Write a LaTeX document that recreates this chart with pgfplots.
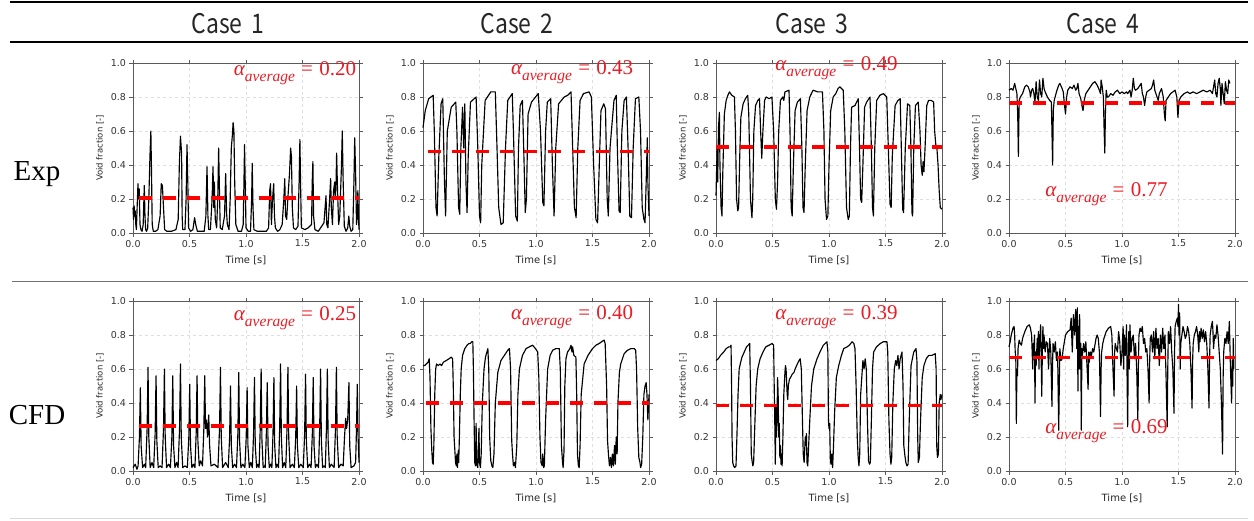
\documentclass[border=0pt]{standalone}
\usepackage{fontspec}
\usepackage{pgfplots}
\pgfplotsset{compat=1.18}
\newfontfamily\dv{DejaVu Sans}
\newfontfamily\tnr{Liberation Serif}
\newfontfamily\casef[FakeStretch=0.85]{Noto Sans CJK KR}
\definecolor{avgred}{RGB}{232,28,36}
\definecolor{spine}{RGB}{90,90,90}

% alpha_average = value, set like the Cambria Math label of the original
\newcommand\alav[1]{{\itshape α}\raisebox{-0.28em}{\itshape\fontsize{15.5}{16}\selectfont average}\hspace{0.3em}=\hspace{0.3em}#1}

\pgfplotsset{
  vf/.style={
    scale only axis, width=226pt, height=170pt,
    xmin=0, xmax=2, ymin=0, ymax=1, clip=false,
    xtick={0,0.5,1,1.5,2}, ytick={0,0.2,0.4,0.6,0.8,1},
    grid=major, grid style={gray!25, dashed, line width=0.5pt},
    axis line style={spine, line width=0.8pt},
    tick align=outside, major tick length=3.5pt,
    tick style={spine, line width=0.8pt},
    ticklabel style={font=\dv\fontsize{9.5}{10}\selectfont, text=black!80},
    /pgf/number format/fixed, /pgf/number format/fixed zerofill,
    /pgf/number format/precision=1,
    /pgf/number format/assume math mode=true,
    xlabel={Time [s]}, ylabel={Void fraction [-]},
    xlabel style={font=\dv\fontsize{10}{11}\selectfont, text=black!85,
      at={(axis description cs:0.5,-0.16)}, anchor=center},
    ylabel style={font=\dv\fontsize{8.5}{9}\selectfont, text=black!85,
      at={(axis description cs:-0.146,0.5)}, anchor=center},
  },
  sig/.style={black, line width=1.15pt, line join=round},
  avg/.style={red, line width=3.6pt, dash pattern=on 13pt off 11pt},
}
\tikzset{lab/.style={text=avgred, font=\tnr\fontsize{21}{23}\selectfont, anchor=center}}

\begin{document}
\begin{tikzpicture}
\useasboundingbox (0,0) rectangle (1254pt,-520pt);

% table rules
\draw[line width=2.5pt] (10pt,-1.8pt) -- (1248pt,-1.8pt);
\draw[line width=2.5pt] (10pt,-42pt) -- (1248pt,-42pt);
\draw[black!55, line width=1pt] (12pt,-281.5pt) -- (1248pt,-281.5pt);
\draw[black!15, line width=1pt] (10pt,-518.5pt) -- (1248pt,-518.5pt);

% headers
\foreach \x/\t in {228/1, 517/2, 812/3, 1103/4}
  \node[font=\casef\fontsize{27}{28}\selectfont, anchor=base, text=black!85] at (\x pt,-33pt) {Case\,\,\t};
\node[font=\tnr\fontsize{29}{30}\selectfont, anchor=base] at (37pt,-180pt) {Exp};
\node[font=\tnr\fontsize{29}{30}\selectfont, anchor=base] at (37pt,-424pt) {CFD};

% ---------- Exp, case 1
\begin{axis}[vf, at={(133pt,-63pt)}, anchor=north west]
\addplot[sig] coordinates {
(0,0.15)(0.005,0.08)(0.01,0.16)(0.015,0.10)(0.02,0.13)(0.025,0.05)(0.03,0.02)(0.035,0.12)(0.044,0.29)(0.05,0.2)(0.055,0.26)(0.062,0.05)(0.07,0.02)(0.08,0.01)(0.09,0.05)(0.1,0.28)(0.106,0.1)(0.112,0.02)(0.12,0.01)(0.13,0.03)(0.14,0.2)(0.15,0.45)(0.158,0.6)(0.164,0.35)(0.17,0.05)(0.18,0.01)(0.2,0.01)(0.22,0.02)(0.24,0.1)(0.25,0.29)(0.26,0.28)(0.27,0.15)(0.28,0.02)(0.3,0.01)(0.34,0.01)(0.38,0.02)(0.40,0.08)(0.41,0.4)(0.42,0.57)(0.43,0.47)(0.435,0.1)(0.44,0.02)(0.46,0.02)(0.47,0.2)(0.478,0.52)(0.485,0.3)(0.492,0.03)(0.51,0.01)(0.53,0.02)(0.545,0.09)(0.555,0.05)(0.57,0.01)(0.6,0.01)(0.63,0.01)(0.645,0.1)(0.655,0.39)(0.663,0.1)(0.67,0.02)(0.685,0.02)(0.7,0.2)(0.708,0.39)(0.715,0.15)(0.72,0.3)(0.728,0.08)(0.74,0.03)(0.75,0.2)(0.758,0.5)(0.765,0.25)(0.772,0.03)(0.79,0.02)(0.81,0.1)(0.82,0.35)(0.828,0.12)(0.835,0.05)(0.85,0.02)(0.86,0.2)(0.87,0.5)(0.88,0.58)(0.886,0.65)(0.893,0.6)(0.9,0.3)(0.91,0.05)(0.93,0.01)(0.96,0.01)(0.975,0.05)(0.982,0.3)(0.987,0.52)(0.993,0.3)(1.0,0.03)(1.02,0.01)(1.04,0.01)(1.05,0.2)(1.055,0.41)(1.062,0.15)(1.07,0.02)(1.1,0.01)(1.14,0.01)(1.18,0.01)(1.2,0.03)(1.21,0.25)(1.217,0.29)(1.225,0.05)(1.235,0.2)(1.245,0.29)(1.252,0.1)(1.26,0.03)(1.28,0.01)(1.3,0.02)(1.32,0.05)(1.335,0.2)(1.343,0.32)(1.35,0.1)(1.36,0.08)(1.37,0.2)(1.385,0.35)(1.395,0.5)(1.402,0.45)(1.41,0.15)(1.42,0.03)(1.44,0.02)(1.46,0.04)(1.47,0.3)(1.477,0.55)(1.484,0.25)(1.49,0.03)(1.52,0.02)(1.55,0.03)(1.58,0.05)(1.586,0.3)(1.592,0.42)(1.598,0.1)(1.61,0.02)(1.64,0.01)(1.67,0.04)(1.69,0.06)(1.7,0.15)(1.708,0.22)(1.715,0.05)(1.725,0.03)(1.74,0.2)(1.749,0.32)(1.755,0.15)(1.765,0.05)(1.775,0.25)(1.785,0.3)(1.79,0.2)(1.797,0.3)(1.802,0.47)(1.81,0.25)(1.82,0.05)(1.83,0.1)(1.845,0.4)(1.852,0.6)(1.86,0.3)(1.87,0.04)(1.885,0.01)(1.9,0.03)(1.91,0.1)(1.918,0.04)(1.93,0.01)(1.945,0.02)(1.955,0.3)(1.962,0.56)(1.97,0.35)(1.978,0.05)(1.985,0.1)(1.99,0.25)(1.995,0.1)(2.0,0.02)
};
\addplot[avg] coordinates {(0.05,0.205)(2,0.205)};
\node[lab] at (axis cs:1.434,0.94) {\alav{0.20}};
\end{axis}

% ---------- Exp, case 2
\begin{axis}[vf, at={(423pt,-63pt)}, anchor=north west]
\addplot[sig] coordinates {
(0,0.62)(0.02,0.72)(0.05,0.79)(0.09,0.81)(0.10,0.6)(0.115,0.15)(0.125,0.10)(0.14,0.45)(0.16,0.76)(0.175,0.79)(0.19,0.3)(0.20,0.10)(0.215,0.6)(0.25,0.74)(0.29,0.77)(0.30,0.6)(0.315,0.15)(0.325,0.11)(0.335,0.5)(0.35,0.74)(0.36,0.5)(0.37,0.76)(0.38,0.3)(0.39,0.12)(0.40,0.45)(0.42,0.77)(0.47,0.8)(0.485,0.5)(0.50,0.1)(0.51,0.06)(0.52,0.4)(0.55,0.78)(0.60,0.83)(0.64,0.83)(0.655,0.5)(0.67,0.15)(0.69,0.05)(0.71,0.06)(0.73,0.5)(0.75,0.78)(0.79,0.82)(0.80,0.6)(0.82,0.1)(0.835,0.07)(0.845,0.5)(0.86,0.75)(0.88,0.78)(0.895,0.4)(0.905,0.12)(0.915,0.2)(0.93,0.7)(0.96,0.77)(1.02,0.82)(1.04,0.6)(1.06,0.18)(1.07,0.16)(1.085,0.6)(1.10,0.77)(1.13,0.79)(1.145,0.4)(1.16,0.1)(1.175,0.5)(1.20,0.76)(1.25,0.8)(1.28,0.81)(1.31,0.83)(1.32,0.6)(1.34,0.15)(1.355,0.09)(1.37,0.5)(1.39,0.78)(1.42,0.82)(1.47,0.83)(1.49,0.8)(1.51,0.4)(1.53,0.08)(1.545,0.06)(1.56,0.4)(1.575,0.72)(1.60,0.76)(1.615,0.73)(1.63,0.2)(1.64,0.1)(1.655,0.5)(1.69,0.78)(1.71,0.81)(1.72,0.5)(1.735,0.13)(1.745,0.12)(1.76,0.6)(1.78,0.78)(1.80,0.8)(1.815,0.5)(1.83,0.1)(1.845,0.09)(1.86,0.5)(1.88,0.79)(1.91,0.8)(1.925,0.6)(1.94,0.15)(1.955,0.08)(1.965,0.06)(1.975,0.3)(1.985,0.56)(1.99,0.3)(2.0,0.1)
};
\addplot[avg] coordinates {(0.04,0.48)(2,0.48)};
\node[lab] at (axis cs:1.32,0.947) {\alav{0.43}};
\end{axis}

% ---------- Exp, case 3
\begin{axis}[vf, at={(716pt,-63pt)}, anchor=north west]
\addplot[sig] coordinates {
(0,0.22)(0.01,0.5)(0.015,0.3)(0.022,0.62)(0.03,0.71)(0.035,0.4)(0.045,0.15)(0.053,0.1)(0.06,0.35)(0.074,0.7)(0.09,0.78)(0.105,0.81)(0.119,0.83)(0.14,0.81)(0.163,0.8)(0.172,0.6)(0.182,0.2)(0.193,0.13)(0.2,0.15)(0.21,0.45)(0.22,0.68)(0.24,0.76)(0.26,0.79)(0.281,0.81)(0.29,0.7)(0.305,0.2)(0.318,0.09)(0.325,0.2)(0.335,0.6)(0.35,0.75)(0.37,0.78)(0.385,0.79)(0.395,0.6)(0.405,0.44)(0.415,0.6)(0.43,0.78)(0.444,0.8)(0.47,0.79)(0.495,0.8)(0.51,0.6)(0.525,0.2)(0.535,0.14)(0.545,0.3)(0.555,0.6)(0.57,0.78)(0.59,0.8)(0.6,0.78)(0.61,0.83)(0.646,0.84)(0.655,0.6)(0.665,0.15)(0.674,0.1)(0.685,0.4)(0.7,0.72)(0.72,0.77)(0.747,0.79)(0.76,0.5)(0.77,0.15)(0.779,0.12)(0.79,0.4)(0.806,0.72)(0.83,0.8)(0.859,0.84)(0.9,0.83)(0.942,0.83)(0.955,0.6)(0.965,0.2)(0.978,0.08)(0.99,0.1)(1.0,0.4)(1.015,0.72)(1.037,0.8)(1.06,0.82)(1.08,0.85)(1.096,0.86)(1.126,0.84)(1.14,0.6)(1.155,0.15)(1.17,0.08)(1.18,0.1)(1.19,0.5)(1.2,0.74)(1.23,0.75)(1.259,0.79)(1.27,0.5)(1.28,0.2)(1.289,0.18)(1.3,0.4)(1.315,0.74)(1.333,0.77)(1.363,0.8)(1.375,0.5)(1.385,0.15)(1.393,0.1)(1.405,0.5)(1.422,0.78)(1.45,0.81)(1.481,0.82)(1.511,0.8)(1.525,0.5)(1.54,0.17)(1.55,0.15)(1.56,0.45)(1.585,0.75)(1.61,0.78)(1.63,0.79)(1.64,0.5)(1.652,0.14)(1.66,0.12)(1.675,0.5)(1.695,0.76)(1.715,0.75)(1.725,0.5)(1.734,0.12)(1.74,0.1)(1.75,0.5)(1.765,0.75)(1.79,0.77)(1.805,0.6)(1.815,0.4)(1.825,0.34)(1.833,0.42)(1.84,0.36)(1.85,0.5)(1.865,0.75)(1.881,0.78)(1.905,0.78)(1.926,0.77)(1.935,0.6)(1.945,0.52)(1.955,0.5)(1.965,0.4)(1.975,0.25)(1.985,0.15)(2.0,0.14)
};
\addplot[avg] coordinates {(0.0,0.505)(2,0.505)};
\node[lab] at (axis cs:1.066,0.97) {\alav{0.49}};
\end{axis}

% ---------- Exp, case 4
\begin{axis}[vf, at={(1009pt,-63pt)}, anchor=north west]
\addplot[sig] coordinates {
(0,0.84)(0.02,0.85)(0.035,0.84)(0.05,0.88)(0.06,0.85)(0.07,0.82)(0.077,0.7)(0.083,0.45)(0.09,0.78)(0.1,0.8)(0.12,0.82)(0.14,0.86)(0.155,0.87)(0.17,0.86)(0.185,0.83)(0.19,0.8)(0.2,0.84)(0.21,0.85)(0.22,0.82)(0.23,0.77)(0.24,0.89)(0.25,0.8)(0.26,0.78)(0.27,0.9)(0.28,0.82)(0.29,0.8)(0.3,0.91)(0.31,0.85)(0.32,0.83)(0.34,0.8)(0.36,0.78)(0.375,0.77)(0.38,0.6)(0.386,0.4)(0.392,0.72)(0.4,0.78)(0.42,0.83)(0.44,0.87)(0.45,0.88)(0.47,0.85)(0.48,0.83)(0.49,0.76)(0.5,0.7)(0.51,0.8)(0.52,0.84)(0.54,0.86)(0.56,0.85)(0.575,0.87)(0.59,0.84)(0.6,0.85)(0.61,0.88)(0.62,0.82)(0.635,0.79)(0.645,0.75)(0.655,0.72)(0.665,0.78)(0.68,0.82)(0.7,0.84)(0.72,0.86)(0.74,0.88)(0.76,0.89)(0.78,0.87)(0.8,0.84)(0.81,0.82)(0.815,0.9)(0.825,0.86)(0.835,0.8)(0.842,0.6)(0.848,0.47)(0.853,0.7)(0.86,0.84)(0.87,0.8)(0.88,0.8)(0.9,0.82)(0.92,0.81)(0.94,0.83)(0.96,0.84)(0.98,0.82)(1.0,0.83)(1.02,0.82)(1.04,0.83)(1.05,0.82)(1.07,0.84)(1.08,0.8)(1.09,0.84)(1.1,0.91)(1.11,0.85)(1.12,0.84)(1.14,0.85)(1.16,0.87)(1.17,0.88)(1.18,0.82)(1.19,0.8)(1.2,0.75)(1.21,0.8)(1.22,0.83)(1.24,0.84)(1.26,0.85)(1.27,0.87)(1.28,0.9)(1.29,0.84)(1.31,0.8)(1.32,0.78)(1.33,0.82)(1.35,0.85)(1.365,0.8)(1.375,0.7)(1.382,0.66)(1.39,0.78)(1.41,0.8)(1.43,0.82)(1.45,0.83)(1.47,0.84)(1.485,0.8)(1.495,0.68)(1.505,0.78)(1.52,0.8)(1.55,0.82)(1.58,0.83)(1.6,0.82)(1.63,0.83)(1.66,0.82)(1.69,0.83)(1.72,0.84)(1.75,0.83)(1.78,0.84)(1.8,0.82)(1.81,0.86)(1.82,0.9)(1.83,0.82)(1.84,0.8)(1.85,0.88)(1.86,0.91)(1.87,0.85)(1.875,0.75)(1.885,0.88)(1.895,0.82)(1.905,0.76)(1.915,0.89)(1.925,0.84)(1.935,0.82)(1.945,0.9)(1.955,0.88)
};
\addplot[avg] coordinates {(0.0,0.765)(2,0.765)};
\node[lab] at (axis cs:0.863,0.23) {\alav{0.77}};
\end{axis}

% ---------- CFD, case 1
\begin{axis}[vf, at={(133pt,-301pt)}, anchor=north west]
\addplot[sig] coordinates {
(0,0.02)(0.02,0.04)(0.035,0.01)
(0.045,0.03)(0.057,0.2)(0.065,0.49)(0.072,0.15)(0.085,0.02)(0.1,0.04)
(0.112,0.02)(0.125,0.25)(0.133,0.61)(0.14,0.2)(0.152,0.02)(0.168,0.05)
(0.183,0.02)(0.196,0.22)(0.204,0.56)(0.211,0.18)(0.223,0.02)(0.24,0.03)
(0.257,0.02)(0.27,0.25)(0.278,0.60)(0.285,0.2)(0.297,0.02)(0.315,0.04)
(0.331,0.02)(0.344,0.2)(0.352,0.56)(0.359,0.15)(0.371,0.02)(0.385,0.05)
(0.399,0.02)(0.412,0.25)(0.42,0.63)(0.427,0.2)(0.44,0.02)(0.46,0.03)
(0.481,0.02)(0.494,0.2)(0.502,0.51)(0.509,0.15)(0.521,0.02)(0.535,0.04)
(0.548,0.02)(0.559,0.22)(0.567,0.56)(0.574,0.18)(0.586,0.03)(0.6,0.06)
(0.615,0.03)(0.627,0.25)(0.635,0.56)(0.642,0.25)(0.65,0.3)(0.66,0.2)(0.67,0.33)(0.678,0.15)(0.69,0.03)
(0.72,0.04)(0.752,0.02)(0.766,0.25)(0.774,0.61)(0.781,0.2)(0.793,0.02)(0.82,0.05)
(0.843,0.02)(0.855,0.2)(0.863,0.50)(0.87,0.15)(0.882,0.02)(0.9,0.04)
(0.916,0.02)(0.928,0.22)(0.936,0.58)(0.943,0.18)(0.955,0.02)(0.972,0.04)
(0.99,0.02)(1.002,0.2)(1.01,0.49)(1.017,0.15)(1.029,0.02)(1.042,0.05)
(1.056,0.02)(1.067,0.22)(1.075,0.55)(1.082,0.15)(1.094,0.02)(1.104,0.04)
(1.116,0.02)(1.126,0.25)(1.134,0.60)(1.141,0.18)(1.152,0.02)(1.162,0.03)
(1.17,0.02)(1.18,0.22)(1.188,0.52)(1.195,0.15)(1.206,0.02)(1.218,0.04)
(1.229,0.02)(1.239,0.22)(1.247,0.55)(1.254,0.15)(1.265,0.02)(1.277,0.04)
(1.288,0.02)(1.298,0.25)(1.306,0.63)(1.313,0.2)(1.324,0.02)(1.338,0.05)
(1.352,0.02)(1.363,0.25)(1.371,0.61)(1.378,0.2)(1.39,0.02)(1.41,0.04)
(1.428,0.02)(1.44,0.2)(1.448,0.50)(1.455,0.15)(1.467,0.02)(1.485,0.04)
(1.507,0.02)(1.519,0.22)(1.527,0.57)(1.534,0.18)(1.546,0.02)(1.562,0.04)
(1.576,0.02)(1.587,0.22)(1.595,0.55)(1.602,0.15)(1.614,0.02)(1.628,0.04)
(1.642,0.02)(1.652,0.25)(1.66,0.60)(1.667,0.18)(1.678,0.02)(1.69,0.03)
(1.702,0.02)(1.712,0.25)(1.72,0.60)(1.727,0.18)(1.738,0.02)(1.755,0.04)
(1.78,0.02)(1.792,0.25)(1.80,0.61)(1.807,0.2)(1.82,0.02)(1.84,0.04)
(1.86,0.03)(1.872,0.2)(1.882,0.31)(1.89,0.25)(1.9,0.3)(1.911,0.52)(1.918,0.15)(1.93,0.02)(1.955,0.03)
(1.97,0.05)(1.978,0.25)(1.985,0.51)(1.992,0.2)(2.0,0.05)
};
\addplot[avg] coordinates {(0.05,0.265)(2,0.265)};
\node[lab] at (axis cs:1.434,0.90) {\alav{0.25}};
\end{axis}

% ---------- CFD, case 2
\begin{axis}[vf, at={(423pt,-301pt)}, anchor=north west]
\addplot[sig] coordinates {
(0,0.62)(0.015,0.62)(0.03,0.63)(0.045,0.64)(0.055,0.66)(0.062,0.55)(0.07,0.25)(0.078,0.12)(0.084,0.05)(0.09,0.04)(0.096,0.15)(0.104,0.45)(0.112,0.6)(0.12,0.63)(0.135,0.62)(0.15,0.63)(0.165,0.62)(0.18,0.64)(0.206,0.65)(0.23,0.66)(0.25,0.67)(0.262,0.66)(0.268,0.5)(0.275,0.2)(0.282,0.12)(0.288,0.05)(0.295,0.03)(0.3,0.1)(0.305,0.02)(0.312,0.12)(0.316,0.05)(0.322,0.2)(0.33,0.45)(0.338,0.6)(0.35,0.68)(0.37,0.72)(0.39,0.74)(0.406,0.75)(0.42,0.75)(0.43,0.76)(0.441,0.76)(0.446,0.6)(0.452,0.3)(0.458,0.05)(0.465,0.03)(0.47,0.28)(0.475,0.04)(0.485,0.02)(0.495,0.25)(0.5,0.05)(0.508,0.02)(0.515,0.1)(0.525,0.4)(0.54,0.6)(0.553,0.67)(0.574,0.72)(0.582,0.6)(0.59,0.2)(0.6,0.06)(0.61,0.03)(0.618,0.02)(0.628,0.1)(0.64,0.4)(0.662,0.58)(0.69,0.65)(0.72,0.68)(0.75,0.71)(0.765,0.72)(0.775,0.6)(0.785,0.18)(0.792,0.1)(0.8,0.03)(0.81,0.05)(0.818,0.02)(0.83,0.15)(0.84,0.45)(0.853,0.6)(0.88,0.68)(0.912,0.72)(0.94,0.73)(0.97,0.74)(0.995,0.72)(1.015,0.7)(1.025,0.55)(1.035,0.2)(1.044,0.05)(1.055,0.03)(1.06,0.1)(1.068,0.02)(1.074,0.03)(1.085,0.3)(1.103,0.6)(1.125,0.68)(1.147,0.71)(1.175,0.72)(1.206,0.72)(1.215,0.6)(1.225,0.15)(1.235,0.05)(1.24,0.02)(1.248,0.12)(1.255,0.5)(1.265,0.66)(1.279,0.7)(1.3,0.72)(1.31,0.74)(1.318,0.7)(1.324,0.73)(1.335,0.68)(1.353,0.67)(1.36,0.45)(1.367,0.1)(1.375,0.03)(1.382,0.02)(1.39,0.15)(1.4,0.45)(1.426,0.63)(1.46,0.68)(1.5,0.72)(1.53,0.74)(1.559,0.75)(1.58,0.76)(1.603,0.77)(1.612,0.75)(1.625,0.5)(1.633,0.18)(1.641,0.1)(1.65,0.03)(1.66,0.08)(1.668,0.02)(1.676,0.1)(1.685,0.03)(1.695,0.15)(1.702,0.04)(1.71,0.2)(1.718,0.1)(1.725,0.4)(1.738,0.58)(1.75,0.63)(1.78,0.69)(1.809,0.71)(1.84,0.72)(1.87,0.72)(1.882,0.71)(1.89,0.6)(1.9,0.25)(1.91,0.08)(1.92,0.05)(1.926,0.02)(1.935,0.04)(1.945,0.2)(1.955,0.45)(1.965,0.5)(1.975,0.52)(1.982,0.45)(1.99,0.3)(2.0,0.45)
};
\addplot[avg] coordinates {(0.03,0.40)(2,0.40)};
\node[lab] at (axis cs:1.32,0.906) {\alav{0.40}};
\end{axis}

% ---------- CFD, case 3
\begin{axis}[vf, at={(716pt,-301pt)}, anchor=north west]
\addplot[sig] coordinates {
(0,0.65)(0.02,0.66)(0.04,0.68)(0.068,0.7)(0.09,0.72)(0.112,0.73)(0.125,0.73)(0.133,0.74)(0.138,0.5)(0.142,0.2)(0.148,0.05)(0.156,0.03)(0.165,0.02)(0.177,0.03)(0.185,0.2)(0.195,0.45)(0.205,0.6)(0.215,0.63)(0.23,0.67)(0.25,0.7)(0.27,0.73)(0.285,0.74)(0.298,0.75)(0.305,0.5)(0.312,0.1)(0.319,0.06)(0.326,0.03)(0.333,0.05)(0.345,0.3)(0.355,0.5)(0.369,0.6)(0.39,0.66)(0.416,0.7)(0.44,0.73)(0.47,0.74)(0.496,0.75)(0.51,0.74)(0.515,0.5)(0.52,0.3)(0.525,0.04)(0.53,0.38)(0.535,0.2)(0.54,0.3)(0.545,0.55)(0.55,0.45)(0.555,0.2)(0.56,0.28)(0.565,0.08)(0.57,0.15)(0.575,0.04)(0.58,0.1)(0.585,0.03)(0.592,0.2)(0.6,0.45)(0.61,0.58)(0.615,0.62)(0.62,0.6)(0.63,0.45)(0.635,0.42)(0.64,0.5)(0.65,0.54)(0.66,0.55)(0.675,0.57)(0.69,0.58)(0.7,0.6)(0.72,0.63)(0.735,0.65)(0.745,0.66)(0.755,0.6)(0.765,0.3)(0.772,0.1)(0.78,0.05)(0.79,0.2)(0.795,0.15)(0.8,0.22)(0.805,0.05)(0.812,0.03)(0.82,0.15)(0.83,0.3)(0.845,0.5)(0.865,0.6)(0.894,0.66)(0.92,0.7)(0.95,0.74)(0.982,0.76)(0.99,0.7)(0.995,0.3)(1.0,0.25)(1.006,0.28)(1.012,0.06)(1.018,0.04)(1.025,0.1)(1.032,0.02)(1.04,0.15)(1.05,0.35)(1.065,0.55)(1.086,0.62)(1.11,0.68)(1.13,0.72)(1.16,0.73)(1.18,0.74)(1.204,0.76)(1.22,0.75)(1.23,0.72)(1.24,0.5)(1.25,0.2)(1.258,0.08)(1.265,0.03)(1.272,0.1)(1.28,0.45)(1.3,0.65)(1.31,0.6)(1.32,0.66)(1.33,0.6)(1.34,0.3)(1.35,0.06)(1.358,0.04)(1.366,0.05)(1.375,0.3)(1.385,0.6)(1.395,0.7)(1.42,0.73)(1.454,0.75)(1.48,0.76)(1.513,0.76)(1.52,0.7)(1.53,0.3)(1.54,0.1)(1.548,0.04)(1.555,0.08)(1.565,0.4)(1.578,0.6)(1.59,0.65)(1.6,0.62)(1.61,0.68)(1.62,0.6)(1.63,0.66)(1.646,0.7)(1.655,0.5)(1.662,0.15)(1.67,0.1)(1.68,0.05)(1.69,0.03)(1.7,0.04)(1.71,0.3)(1.726,0.62)(1.75,0.7)(1.77,0.72)(1.778,0.65)(1.785,0.2)(1.79,0.05)(1.8,0.08)(1.81,0.3)(1.825,0.55)(1.84,0.62)(1.86,0.66)(1.882,0.68)(1.91,0.68)(1.94,0.69)(1.948,0.6)(1.953,0.15)(1.96,0.08)(1.968,0.1)(1.975,0.4)(1.985,0.45)(1.99,0.42)(2.0,0.45)
};
\addplot[avg] coordinates {(0.0,0.385)(2,0.385)};
\node[lab] at (axis cs:1.066,0.906) {\alav{0.39}};
\end{axis}

% ---------- CFD, case 4
\begin{axis}[vf, at={(1009pt,-301pt)}, anchor=north west]
\addplot[sig] coordinates {
(0,0.73)(0.01,0.76)(0.02,0.8)(0.035,0.84)(0.045,0.85)(0.05,0.8)(0.055,0.7)(0.06,0.67)(0.065,0.28)(0.07,0.6)(0.075,0.56)(0.08,0.72)(0.09,0.77)(0.1,0.75)(0.11,0.74)(0.12,0.78)(0.14,0.82)(0.16,0.85)(0.18,0.86)(0.19,0.84)(0.2,0.8)(0.21,0.6)(0.215,0.75)(0.22,0.66)(0.225,0.8)(0.23,0.4)(0.235,0.7)(0.24,0.62)(0.25,0.78)(0.255,0.68)(0.26,0.82)(0.265,0.6)(0.27,0.75)(0.28,0.86)(0.285,0.65)(0.29,0.44)(0.295,0.7)(0.3,0.85)(0.305,0.72)(0.31,0.8)(0.32,0.7)(0.33,0.76)(0.34,0.75)(0.35,0.6)(0.36,0.78)(0.37,0.7)(0.38,0.38)(0.385,0.62)(0.39,0.75)(0.4,0.7)(0.41,0.76)(0.42,0.65)(0.43,0.7)(0.44,0.24)(0.445,0.5)(0.45,0.72)(0.46,0.65)(0.47,0.66)(0.48,0.72)(0.49,0.76)(0.5,0.8)(0.52,0.82)(0.54,0.83)(0.55,0.9)(0.56,0.7)(0.57,0.92)(0.58,0.8)(0.59,0.95)(0.6,0.72)(0.605,0.96)(0.61,0.47)(0.615,0.85)(0.62,0.6)(0.625,0.92)(0.63,0.6)(0.635,0.75)(0.64,0.24)(0.645,0.72)(0.65,0.68)(0.66,0.75)(0.67,0.7)(0.68,0.76)(0.69,0.62)(0.7,0.48)(0.705,0.7)(0.71,0.64)(0.72,0.7)(0.73,0.68)(0.74,0.72)(0.75,0.7)(0.76,0.74)(0.77,0.78)(0.78,0.8)(0.79,0.78)(0.8,0.7)(0.81,0.32)(0.815,0.6)(0.82,0.7)(0.83,0.75)(0.84,0.78)(0.86,0.82)(0.88,0.84)(0.9,0.85)(0.91,0.8)(0.92,0.6)(0.93,0.44)(0.935,0.7)(0.94,0.75)(0.95,0.72)(0.96,0.7)(0.97,0.82)(0.98,0.76)(0.99,0.62)(1.0,0.7)(1.01,0.85)(1.015,0.6)(1.02,0.8)(1.03,0.68)(1.04,0.86)(1.045,0.55)(1.05,0.26)(1.055,0.65)(1.06,0.82)(1.065,0.6)(1.07,0.86)(1.08,0.7)(1.09,0.78)(1.1,0.8)(1.11,0.66)(1.12,0.75)(1.13,0.6)(1.14,0.3)(1.145,0.62)(1.15,0.8)(1.16,0.84)(1.17,0.82)(1.18,0.85)(1.19,0.75)(1.2,0.78)(1.21,0.7)(1.22,0.72)(1.23,0.6)(1.24,0.4)(1.245,0.65)(1.25,0.78)(1.26,0.8)(1.27,0.7)(1.28,0.82)(1.29,0.66)(1.3,0.84)(1.31,0.72)(1.32,0.78)(1.33,0.62)(1.34,0.8)(1.35,0.7)(1.36,0.84)(1.37,0.72)(1.38,0.8)(1.39,0.55)(1.4,0.26)(1.405,0.6)(1.41,0.82)(1.42,0.75)(1.43,0.85)(1.44,0.7)(1.45,0.6)(1.46,0.34)(1.465,0.7)(1.47,0.85)(1.48,0.88)(1.49,0.9)(1.495,0.85)(1.5,0.98)(1.505,0.8)(1.51,0.93)(1.515,0.6)(1.52,0.75)(1.53,0.8)(1.54,0.85)(1.55,0.82)(1.56,0.78)(1.57,0.8)(1.58,0.85)(1.59,0.82)(1.6,0.75)(1.61,0.6)(1.62,0.37)(1.625,0.65)(1.63,0.75)(1.64,0.8)(1.65,0.82)(1.66,0.85)(1.67,0.8)(1.68,0.7)(1.685,0.82)(1.69,0.76)(1.7,0.84)(1.71,0.78)(1.72,0.83)(1.73,0.76)(1.74,0.82)(1.75,0.75)(1.76,0.6)(1.77,0.37)(1.775,0.66)(1.78,0.8)(1.79,0.85)(1.8,0.88)(1.805,0.82)(1.81,0.72)(1.82,0.8)(1.83,0.78)(1.84,0.86)(1.85,0.8)(1.86,0.7)(1.87,0.6)(1.88,0.4)(1.89,0.1)(1.895,0.55)(1.9,0.7)(1.91,0.78)(1.92,0.75)(1.93,0.82)(1.94,0.75)(1.95,0.88)(1.96,0.6)(1.97,0.4)(1.975,0.65)(1.98,0.5)(1.985,0.78)(1.99,0.6)
};
\addplot[avg] coordinates {(0.0,0.667)(2,0.667)};
\node[lab] at (axis cs:0.863,0.234) {\alav{0.69}};
\end{axis}
\end{tikzpicture}
\end{document}
